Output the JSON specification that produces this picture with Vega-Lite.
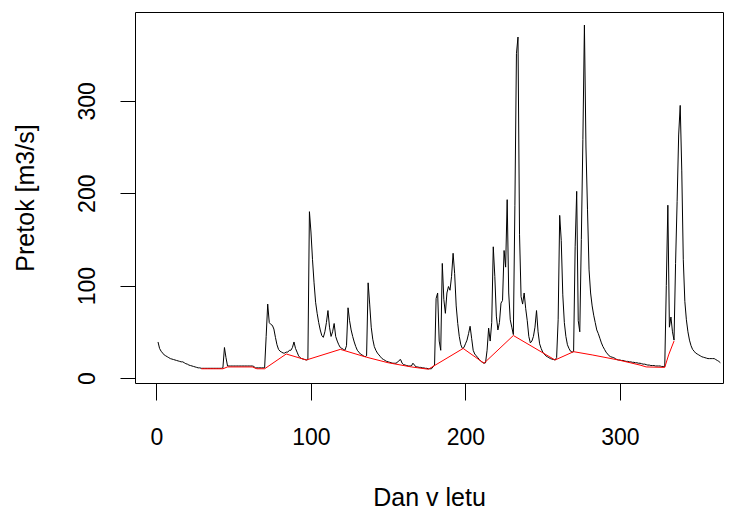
{
  "$schema": "https://vega.github.io/schema/vega-lite/v6.json",
  "width": 588,
  "height": 371,
  "autosize": {"type": "none"},
  "padding": {"left": 135, "top": 12, "right": 7, "bottom": 133},
  "background": "white",
  "config": {
    "view": {"stroke": "black", "strokeWidth": 1},
    "font": "Liberation Sans",
    "axis": {
      "grid": false,
      "domain": false,
      "tickColor": "black",
      "tickWidth": 1,
      "labelColor": "black",
      "labelFont": "Liberation Sans",
      "labelFontSize": 23,
      "titleColor": "black",
      "titleFont": "Liberation Sans",
      "titleFontSize": 25,
      "titleFontWeight": "normal"
    }
  },
  "datasets": {
    "flow": [
      {"d":1,"q":39},{"d":2,"q":32},{"d":3,"q":29},{"d":4,"q":27},{"d":5,"q":25},{"d":6,"q":24},{"d":7,"q":23},{"d":8,"q":22},{"d":9,"q":21},{"d":10,"q":20.5},
      {"d":11,"q":20},{"d":12,"q":19.5},{"d":13,"q":19},{"d":14,"q":18.5},{"d":15,"q":18},{"d":16,"q":17.5},{"d":17,"q":17.5},{"d":18,"q":16.5},{"d":19,"q":15.5},{"d":20,"q":15},
      {"d":21,"q":14},{"d":22,"q":13.5},{"d":23,"q":13},{"d":24,"q":12.5},{"d":25,"q":12},{"d":26,"q":11.5},{"d":27,"q":11},{"d":28,"q":11},{"d":29,"q":10.5},{"d":30,"q":10.5},
      {"d":31,"q":10.5},{"d":32,"q":10.5},{"d":33,"q":10.5},{"d":34,"q":10.5},{"d":35,"q":10.5},{"d":36,"q":10.5},{"d":37,"q":10.5},{"d":38,"q":10.5},{"d":39,"q":10.5},{"d":40,"q":10.5},
      {"d":41,"q":10.5},{"d":42,"q":10.5},{"d":43,"q":11},{"d":44,"q":33},{"d":45,"q":22},{"d":46,"q":13},{"d":47,"q":13},{"d":48,"q":13},{"d":49,"q":13},{"d":50,"q":13},
      {"d":51,"q":13},{"d":52,"q":13},{"d":53,"q":13},{"d":54,"q":13},{"d":55,"q":13},{"d":56,"q":13},{"d":57,"q":13},{"d":58,"q":13},{"d":59,"q":13},{"d":60,"q":13},
      {"d":61,"q":13},{"d":62,"q":13},{"d":63,"q":12.5},{"d":64,"q":11},{"d":65,"q":11},{"d":66,"q":11},{"d":67,"q":11},{"d":68,"q":11},{"d":69,"q":11},{"d":70,"q":11},
      {"d":71,"q":45},{"d":72,"q":80},{"d":73,"q":60},{"d":74,"q":58},{"d":75,"q":57},{"d":76,"q":53},{"d":77,"q":44},{"d":78,"q":36},{"d":79,"q":31},{"d":80,"q":29},
      {"d":81,"q":28},{"d":82,"q":27},{"d":83,"q":27},{"d":84,"q":28},{"d":85,"q":28},{"d":86,"q":30},{"d":87,"q":30},{"d":88,"q":33},{"d":89,"q":39},{"d":90,"q":32},
      {"d":91,"q":28},{"d":92,"q":24},{"d":93,"q":22},{"d":94,"q":21},{"d":95,"q":20.5},{"d":96,"q":20},{"d":97,"q":19.5},{"d":98,"q":20},{"d":99,"q":180},{"d":100,"q":158},
      {"d":101,"q":128},{"d":102,"q":103},{"d":103,"q":82},{"d":104,"q":70},{"d":105,"q":60},{"d":106,"q":52},{"d":107,"q":46},{"d":108,"q":44},{"d":109,"q":50},{"d":110,"q":60},
      {"d":111,"q":73},{"d":112,"q":55},{"d":113,"q":45},{"d":114,"q":50},{"d":115,"q":59},{"d":116,"q":45},{"d":117,"q":40},{"d":118,"q":36},{"d":119,"q":33},{"d":120,"q":32},
      {"d":121,"q":31},{"d":122,"q":30},{"d":123,"q":35},{"d":124,"q":76},{"d":125,"q":62},{"d":126,"q":52},{"d":127,"q":45},{"d":128,"q":39},{"d":129,"q":34},{"d":130,"q":30},
      {"d":131,"q":28},{"d":132,"q":26},{"d":133,"q":25},{"d":134,"q":24},{"d":135,"q":23},{"d":136,"q":24},{"d":137,"q":103},{"d":138,"q":80},{"d":139,"q":55},{"d":140,"q":42},
      {"d":141,"q":34},{"d":142,"q":30},{"d":143,"q":27},{"d":144,"q":25},{"d":145,"q":23},{"d":146,"q":21},{"d":147,"q":20},{"d":148,"q":19},{"d":149,"q":18},{"d":150,"q":17.5},
      {"d":151,"q":17},{"d":152,"q":16.5},{"d":153,"q":16},{"d":154,"q":16},{"d":155,"q":16},{"d":156,"q":17},{"d":157,"q":19},{"d":158,"q":20},{"d":159,"q":16},{"d":160,"q":14.5},
      {"d":161,"q":14},{"d":162,"q":13.5},{"d":163,"q":13},{"d":164,"q":13},{"d":165,"q":13},{"d":166,"q":16},{"d":167,"q":14},{"d":168,"q":12},{"d":169,"q":12},{"d":170,"q":11.5},
      {"d":171,"q":11.5},{"d":172,"q":11},{"d":173,"q":11},{"d":174,"q":10.5},{"d":175,"q":10.5},{"d":176,"q":10},{"d":177,"q":10},{"d":178,"q":10},{"d":179,"q":12},{"d":180,"q":14},
      {"d":181,"q":86},{"d":182,"q":92},{"d":183,"q":40},{"d":184,"q":30},{"d":185,"q":124},{"d":186,"q":85},{"d":187,"q":70},{"d":188,"q":92},{"d":189,"q":99},{"d":190,"q":95},
      {"d":191,"q":110},{"d":192,"q":135},{"d":193,"q":113},{"d":194,"q":78},{"d":195,"q":59},{"d":196,"q":45},{"d":197,"q":36},{"d":198,"q":32},{"d":199,"q":33},{"d":200,"q":37},
      {"d":201,"q":41},{"d":202,"q":48},{"d":203,"q":56},{"d":204,"q":43},{"d":205,"q":30},{"d":206,"q":26},{"d":207,"q":24},{"d":208,"q":22},{"d":209,"q":20},{"d":210,"q":18},
      {"d":211,"q":17},{"d":212,"q":16},{"d":213,"q":16.5},{"d":214,"q":30},{"d":215,"q":54},{"d":216,"q":40},{"d":217,"q":60},{"d":218,"q":142},{"d":219,"q":110},{"d":220,"q":67},
      {"d":221,"q":52},{"d":222,"q":60},{"d":223,"q":81},{"d":224,"q":84},{"d":225,"q":138},{"d":226,"q":120},{"d":227,"q":193},{"d":228,"q":92},{"d":229,"q":63},{"d":230,"q":55},
      {"d":231,"q":47},{"d":232,"q":187},{"d":233,"q":351},{"d":234,"q":369},{"d":235,"q":155},{"d":236,"q":88},{"d":237,"q":80},{"d":238,"q":92},{"d":239,"q":75},{"d":240,"q":62},
      {"d":241,"q":45},{"d":242,"q":38},{"d":243,"q":40},{"d":244,"q":45},{"d":245,"q":55},{"d":246,"q":73},{"d":247,"q":50},{"d":248,"q":37},{"d":249,"q":32},{"d":250,"q":28},
      {"d":251,"q":26},{"d":252,"q":24},{"d":253,"q":23},{"d":254,"q":22},{"d":255,"q":21},{"d":256,"q":20.5},{"d":257,"q":20},{"d":258,"q":19.5},{"d":259,"q":22},{"d":260,"q":63},
      {"d":261,"q":176},{"d":262,"q":149},{"d":263,"q":90},{"d":264,"q":60},{"d":265,"q":45},{"d":266,"q":36},{"d":267,"q":32},{"d":268,"q":29},{"d":269,"q":28},{"d":270,"q":28.5},
      {"d":271,"q":142},{"d":272,"q":202},{"d":273,"q":62},{"d":274,"q":50},{"d":275,"q":150},{"d":276,"q":258},{"d":277,"q":382},{"d":278,"q":250},{"d":279,"q":182},{"d":280,"q":117},
      {"d":281,"q":92},{"d":282,"q":78},{"d":283,"q":68},{"d":284,"q":60},{"d":285,"q":52},{"d":286,"q":48},{"d":287,"q":43},{"d":288,"q":38},{"d":289,"q":34},{"d":290,"q":31},
      {"d":291,"q":28},{"d":292,"q":26},{"d":293,"q":24},{"d":294,"q":23},{"d":295,"q":22.5},{"d":296,"q":22},{"d":297,"q":21},{"d":298,"q":20},{"d":299,"q":19.5},{"d":300,"q":19.5},
      {"d":301,"q":19},{"d":302,"q":19},{"d":303,"q":18.5},{"d":304,"q":18},{"d":305,"q":18},{"d":306,"q":17.5},{"d":307,"q":17.5},{"d":308,"q":17},{"d":309,"q":17},{"d":310,"q":16.5},
      {"d":311,"q":16.5},{"d":312,"q":16},{"d":313,"q":16},{"d":314,"q":15.5},{"d":315,"q":15},{"d":316,"q":15},{"d":317,"q":14.5},{"d":318,"q":14},{"d":319,"q":14},{"d":320,"q":13.5},
      {"d":321,"q":13.5},{"d":322,"q":13.5},{"d":323,"q":13},{"d":324,"q":13},{"d":325,"q":13},{"d":326,"q":13},{"d":327,"q":12.5},{"d":328,"q":12.5},{"d":329,"q":12.5},{"d":330,"q":100},
      {"d":331,"q":187},{"d":332,"q":55},{"d":333,"q":66},{"d":334,"q":50},{"d":335,"q":41},{"d":336,"q":124},{"d":337,"q":191},{"d":338,"q":263},{"d":339,"q":295},{"d":340,"q":225},
      {"d":341,"q":128},{"d":342,"q":83},{"d":343,"q":63},{"d":344,"q":50},{"d":345,"q":41},{"d":346,"q":35},{"d":347,"q":31},{"d":348,"q":29},{"d":349,"q":27},{"d":350,"q":26},
      {"d":351,"q":25},{"d":352,"q":24},{"d":353,"q":23},{"d":354,"q":22.5},{"d":355,"q":22},{"d":356,"q":21.5},{"d":357,"q":21},{"d":358,"q":21},{"d":359,"q":21},{"d":360,"q":21},
      {"d":361,"q":21},{"d":362,"q":20},{"d":363,"q":19},{"d":364,"q":18},{"d":365,"q":16.5}
    ],
    "base": [
      {"d":29,"q":10},{"d":43,"q":10},{"d":46,"q":12},{"d":62,"q":12},{"d":65,"q":10},{"d":70,"q":10},
      {"d":84,"q":26},{"d":97,"q":19.5},{"d":119,"q":31},{"d":136,"q":22.5},{"d":150,"q":16.5},{"d":165,"q":12},
      {"d":176,"q":9.5},{"d":198.5,"q":32},{"d":212,"q":16},{"d":231,"q":46},{"d":258,"q":19.5},{"d":270,"q":28.5},
      {"d":282,"q":25},{"d":299,"q":19.5},{"d":313,"q":14},{"d":317,"q":12},{"d":329,"q":11.5},{"d":331.5,"q":25},{"d":335,"q":40}
    ]
  },
  "encoding": {
    "x": {
      "field": "d",
      "type": "quantitative",
      "scale": {"domain": [-13.9, 366.7], "nice": false, "zero": false},
      "axis": {
        "title": "Dan v letu",
        "values": [0, 100, 200, 300],
        "tickSize": 17,
        "labelPadding": 26,
        "titlePadding": 36,
        "labelFlush": false,
        "labelOverlap": false
      }
    },
    "y": {
      "field": "q",
      "type": "quantitative",
      "scale": {"domain": [-5.4, 396.1], "nice": false, "zero": false},
      "axis": {
        "title": "Pretok [m3/s]",
        "values": [0, 100, 200, 300],
        "tickSize": 15,
        "labelAngle": -90,
        "labelAlign": "center",
        "labelBaseline": "alphabetic",
        "labelPadding": 26,
        "titlePadding": 38,
        "labelFlush": false,
        "labelOverlap": false
      }
    }
  },
  "layer": [
    {"data": {"name": "flow"}, "mark": {"type": "line", "color": "black", "strokeWidth": 1}},
    {"data": {"name": "base"}, "mark": {"type": "line", "color": "#ff0000", "strokeWidth": 1}}
  ]
}
